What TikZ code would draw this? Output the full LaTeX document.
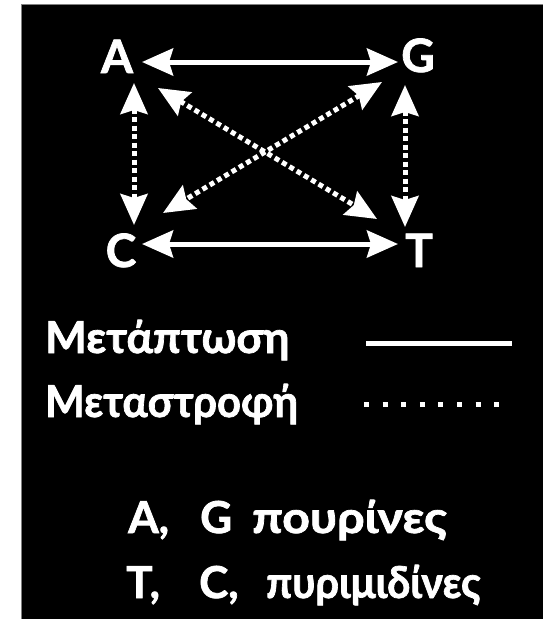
\documentclass[tikz,border=0pt]{standalone}
\usepackage{fontspec}
\setmainfont{Lato}[BoldFeatures={FakeBold=1.6}]
\usetikzlibrary{arrows.meta,calc}
\begin{document}
\begin{tikzpicture}[x=1pt,y=-1pt,
  >={Stealth[length=31pt,width=27pt,inset=4pt]},
  lab/.style={text=white,font=\fontsize{46}{50}\selectfont\bfseries,inner sep=0pt,anchor=base},
  txt/.style={text=white,font=\fontsize{44}{50}\selectfont\bfseries,inner sep=0pt,anchor=base west},
  solidarr/.style={white,line width=5pt,<->},
  dotarr/.style={white,line width=5pt,dash pattern=on 5pt off 3.5pt,<->},
  legline/.style={white,line width=5pt}]
\useasboundingbox (0,0) rectangle (543,619);
\fill[white] (0,0) rectangle (543,619);
\fill[black] (21,4) rectangle (543,619);
\draw[gray,line width=0.6pt] (21,619) -- (21,4) -- (543,4);
% bases
\node[lab] (A) at (117,73) {A};
\node[lab] (G) at (418,72) {G};
\node[lab] (C) at (121,267) {C};
\node[lab] (T) at (419,267) {T};
% transversions / transitions
\draw[solidarr] ($(A.base)+(25,-11)$) -- ($(G.base)+(-20,-10)$);
\draw[solidarr] ($(C.base)+(21,-23)$) -- ($(T.base)+(-21,-23)$);
\draw[dotarr] ($(A.base)+(17,10)$) -- ($(C.base)+(13,-42)$);
\draw[dotarr] ($(G.base)+(-13,13)$) -- ($(T.base)+(-14,-40)$);
\draw[dotarr] ($(A.base)+(41,15)$) -- ($(T.base)+(-42,-48)$);
\draw[dotarr] ($(G.base)+(-36,10)$) -- ($(C.base)+(42,-54)$);
% legend
\node[txt] (m1) at (45,353) {Μετάπτωση};
\node[txt] (m2) at (45,417) {\scalebox{0.95}[1]{Μεταστροφή}};
\coordinate (s1) at (366,343);
\coordinate (s2) at (512,343);
\draw[legline] (s1) -- (s2);
\coordinate (d1) at (364,404);
\coordinate (d2) at (499,404);
\draw[legline,dash pattern=on 5pt off 13.6pt] (d1) -- (d2);
% bottom text
\node[txt] (p1) at (128,533) {\makebox[72pt][l]{A,}\makebox[52pt][l]{G}\scalebox{1.1}[1]{πουρίνες}};
\node[txt] (p2) at (126,598) {\makebox[73pt][l]{T,}\makebox[67pt][l]{C,}\scalebox{0.94}[1]{πυριμιδίνες}};
\end{tikzpicture}
\end{document}
